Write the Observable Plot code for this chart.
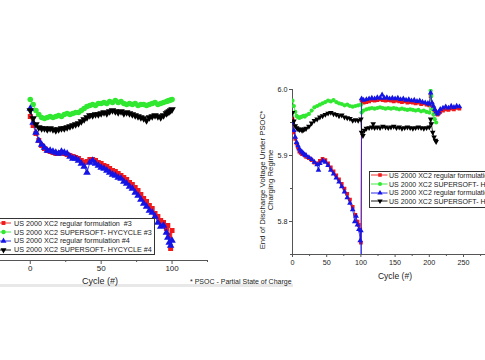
<!DOCTYPE html>
<html><head><meta charset="utf-8">
<script src="https://cdn.jsdelivr.net/npm/d3@7"></script>
<script src="https://cdn.jsdelivr.net/npm/@observablehq/plot@0.6"></script>
<style>
html,body{margin:0;padding:0;background:#fff;}
#wrap{position:relative;width:485px;height:360px;overflow:hidden;background:#fff;font-family:"Liberation Sans",Arial,Helvetica,sans-serif;color:#222;}
.abs{position:absolute;white-space:pre;line-height:1;}
.legend{position:absolute;border:1px solid #333;background:#fff;box-sizing:border-box;}
.row{position:absolute;display:flex;align-items:center;white-space:pre;line-height:1;}
</style></head><body><div id="wrap"></div>
<script>
const FONT = '"Liberation Sans", Arial, Helvetica, sans-serif';

// ---------- series definitions ----------
const seriesNames = [
  "US 2000 XC2 regular formulation  #3",
  "US 2000 XC2 SUPERSOFT- HYCYCLE #3",
  "US 2000 XC2 regular formulation #4",
  "US 2000 XC2 SUPERSOFT- HYCYCLE #4"
];
const seriesColors = ["#f01818", "#30e830", "#1414e6", "#000000"];
const seriesSymbols = ["square", "circle", "triangle", "triangleDown"];

// ---------- left panel (y axis cropped away) ----------
const leftCycles = [0,2,4,6,8,10,12,14,16,18,20,22,24,26,28,30,32,34,36,38,40,42,44,46,48,50,52,54,56,58,60,62,64,66,68,70,72,74,76,78,80,82,84,86,88,90,92,94,96,97,98,99,100];
const leftRegular3 = [5.888,5.870,5.854,5.840,5.830,5.824,5.820,5.818,5.816,5.814,5.814,5.816,5.814,5.812,5.810,5.808,5.806,5.804,5.800,5.796,5.798,5.802,5.802,5.800,5.796,5.794,5.790,5.788,5.784,5.780,5.778,5.774,5.770,5.766,5.762,5.756,5.752,5.746,5.740,5.732,5.724,5.718,5.710,5.704,5.694,5.688,5.680,5.676,5.664,5.670,5.650,5.624,5.660];
const leftSupersoft3 = [5.922,5.912,5.900,5.892,5.886,5.884,5.886,5.888,5.886,5.888,5.890,5.888,5.892,5.894,5.892,5.894,5.896,5.896,5.900,5.904,5.908,5.910,5.912,5.910,5.914,5.914,5.916,5.914,5.918,5.916,5.920,5.916,5.918,5.914,5.912,5.914,5.912,5.914,5.910,5.912,5.912,5.910,5.912,5.914,5.916,5.912,5.914,5.916,5.918,5.919,5.920,5.921,5.922];
const leftRegular4 = [5.904,5.876,5.856,5.840,5.832,5.826,5.820,5.820,5.818,5.816,5.814,5.818,5.816,5.814,5.808,5.804,5.804,5.800,5.794,5.788,5.776,5.796,5.800,5.794,5.790,5.786,5.784,5.780,5.776,5.772,5.770,5.766,5.764,5.758,5.754,5.748,5.744,5.736,5.730,5.722,5.714,5.708,5.700,5.696,5.688,5.676,5.668,5.670,5.656,5.646,5.636,5.630,5.640];
const leftSupersoft4 = [5.900,5.884,5.872,5.866,5.864,5.864,5.862,5.864,5.862,5.860,5.862,5.864,5.864,5.866,5.868,5.870,5.872,5.874,5.878,5.882,5.886,5.890,5.890,5.892,5.892,5.894,5.896,5.894,5.898,5.900,5.898,5.896,5.898,5.894,5.896,5.894,5.892,5.890,5.888,5.886,5.884,5.880,5.886,5.888,5.890,5.888,5.886,5.890,5.894,5.896,5.898,5.900,5.902];
const leftXTicks = [0, 50, 100];
const leftXMinorTicks = [25, 75, 125];

// ---------- right panel ----------
const rightRegular3Cycles = [0,2,4,6,8,10,12,14,16,18,20,24,28,32,36,40,44,48,52,56,60,64,68,72,76,80,84,88,92,95,97,99,100,101,104,108,112,116,120,124,128,132,136,140,144,148,152,156,160,164,168,172,176,180,184,188,192,196,200,202,204,206,208,210,212,214,216,220,224,228,232,236,240,244];
const rightRegular3 = [5.955,5.935,5.925,5.918,5.912,5.906,5.904,5.902,5.902,5.900,5.898,5.896,5.893,5.889,5.888,5.892,5.895,5.893,5.888,5.882,5.876,5.870,5.864,5.857,5.850,5.842,5.833,5.822,5.810,5.800,5.795,5.788,5.768,5.983,5.980,5.981,5.982,5.984,5.983,5.984,5.985,5.984,5.983,5.984,5.983,5.982,5.983,5.982,5.981,5.982,5.980,5.981,5.980,5.979,5.980,5.978,5.979,5.977,5.976,5.990,5.978,5.972,5.968,5.965,5.962,5.964,5.966,5.968,5.970,5.969,5.971,5.970,5.972,5.971];
const rightSupersoft3Cycles = [0,2,4,6,8,10,12,14,16,18,20,24,28,32,36,40,44,48,52,56,60,64,68,72,76,80,84,88,92,96,100,101,104,108,112,116,120,124,128,132,136,140,144,148,152,156,160,164,168,172,176,180,184,188,192,196,200,202,203,204,206,208,210];
const rightSupersoft3 = [5.983,5.975,5.966,5.960,5.958,5.957,5.958,5.959,5.960,5.959,5.961,5.963,5.968,5.973,5.975,5.977,5.979,5.981,5.983,5.982,5.984,5.981,5.979,5.978,5.976,5.977,5.975,5.974,5.975,5.976,5.977,5.965,5.968,5.970,5.971,5.972,5.971,5.972,5.973,5.972,5.971,5.972,5.971,5.972,5.971,5.970,5.971,5.970,5.969,5.970,5.969,5.968,5.969,5.967,5.968,5.966,5.965,5.998,5.990,5.970,5.962,5.955,5.950];
const rightRegular4Cycles = [0,2,4,6,8,10,12,14,16,18,20,24,28,32,36,38,40,44,48,52,56,60,64,68,72,76,80,84,88,91,93,95,97,99,100,100.5,101,104,108,112,116,120,124,128,131,134,138,142,146,150,154,158,162,166,170,174,178,182,186,190,194,198,200,202,204,206,208,210,212,214,216,220,224,228,232,236,240,244];
const rightRegular4 = [5.950,5.938,5.928,5.920,5.915,5.910,5.907,5.905,5.903,5.901,5.900,5.897,5.894,5.890,5.886,5.878,5.888,5.892,5.890,5.885,5.878,5.872,5.866,5.860,5.853,5.845,5.836,5.828,5.818,5.800,5.808,5.795,5.788,5.771,5.786,5.700,5.986,5.984,5.985,5.986,5.987,5.986,5.988,5.987,5.992,5.987,5.988,5.986,5.987,5.986,5.987,5.985,5.986,5.984,5.985,5.983,5.984,5.982,5.983,5.981,5.980,5.979,5.978,5.995,5.980,5.975,5.970,5.966,5.963,5.966,5.970,5.972,5.974,5.972,5.975,5.973,5.975,5.974];
const rightSupersoft4Cycles = [0,2,4,6,8,10,12,14,16,18,20,24,28,32,36,40,44,48,52,56,60,64,68,72,76,80,84,88,92,96,100,101,103,105,108,112,116,118,120,124,128,132,136,140,144,148,152,156,160,164,168,172,176,180,184,188,192,196,200,202,203,205,207,209,210];
const rightSupersoft4 = [5.965,5.952,5.945,5.942,5.940,5.939,5.940,5.938,5.939,5.940,5.941,5.944,5.949,5.953,5.955,5.958,5.960,5.962,5.964,5.965,5.963,5.962,5.960,5.961,5.958,5.957,5.956,5.953,5.954,5.953,5.955,5.935,5.930,5.938,5.941,5.942,5.943,5.948,5.942,5.943,5.942,5.944,5.943,5.942,5.943,5.944,5.942,5.943,5.941,5.942,5.943,5.942,5.941,5.942,5.943,5.942,5.941,5.942,5.943,5.955,5.948,5.935,5.928,5.923,5.921];
const rightXTicks = [0, 50, 100, 150, 200, 250, 300];
const rightXMinorTicks = [25, 75, 125, 175, 225, 275];
const rightYTicks = [5.8, 5.9, 6.0];
const rightYMinorTicks = [5.75, 5.85, 5.95];

// ---------- helpers ----------
const triangleDown = {
  draw(context, size) {
    d3.symbolTriangle.draw({
      moveTo: (x, y) => context.moveTo(x, -y),
      lineTo: (x, y) => context.lineTo(x, -y),
      closePath: () => context.closePath()
    }, size);
  }
};
const symbolFor = s => s === "triangleDown" ? triangleDown : s;
const d3SymbolFor = s => ({square: d3.symbolSquare, circle: d3.symbolCircle, triangle: d3.symbolTriangle, triangleDown}[s]);
const toRows = (cycles, values) => values.map((v, i) => ({cycle: cycles[i], v}));

function seriesMarks(rows, i, r, clip) {
  return [
    Plot.line(rows, {x: "cycle", y: "v", stroke: seriesColors[i], strokeWidth: 0.8, clip}),
    Plot.dot(rows, {x: "cycle", y: "v", symbol: symbolFor(seriesSymbols[i]), fill: seriesColors[i], r, clip})
  ];
}

const wrap = document.getElementById("wrap");
function place(el, left, top) {
  el.style.position = "absolute";
  el.style.left = left + "px";
  el.style.top = top + "px";
  wrap.appendChild(el);
}
function addText(txt, cx, cy, size, align = "center") {
  const d = document.createElement("div");
  d.className = "abs";
  d.textContent = txt;
  d.style.fontSize = size + "px";
  d.style.color = "#222";
  wrap.appendChild(d);
  const w = d.getBoundingClientRect().width;
  const left = align === "center" ? cx - w / 2 : cx;
  d.style.left = left + "px";
  d.style.top = (cy - size / 2) + "px";
  return d;
}
function addLegend(box) {
  const div = document.createElement("div");
  div.className = "legend";
  Object.assign(div.style, {left: box.left + "px", top: box.top + "px", width: box.width + "px", height: box.height + "px"});
  wrap.appendChild(div);
  seriesNames.forEach((name, i) => {
    const cy = box.firstRow + i * box.step;
    const row = document.createElement("div");
    row.className = "row";
    row.style.left = box.lineX0 + "px";
    row.style.top = (cy - 5) + "px";
    row.style.height = "10px";
    const svg = d3.create("svg").attr("width", box.textX - box.lineX0).attr("height", 10).style("display", "block").style("overflow", "visible");
    svg.append("line").attr("x1", 0).attr("x2", box.lineX1 - box.lineX0).attr("y1", 5).attr("y2", 5)
      .attr("stroke", seriesColors[i]).attr("stroke-width", 0.9);
    svg.append("path").attr("transform", `translate(${box.markX - box.lineX0},5)`)
      .attr("d", d3.symbol(d3SymbolFor(seriesSymbols[i]), Math.PI * box.markR * box.markR)())
      .attr("fill", seriesColors[i]);
    row.appendChild(svg.node());
    const span = document.createElement("span");
    span.textContent = name;
    span.style.fontSize = box.fontSize + "px";
    span.style.color = "#222";
    row.appendChild(span);
    wrap.appendChild(row);
  });
}

// ---------- left plot ----------
const leftSeries = [leftRegular3, leftSupersoft3, leftRegular4, leftSupersoft4];
const leftPlot = Plot.plot({
  width: 240, height: 300,
  marginLeft: 0, marginRight: 33, marginTop: 60, marginBottom: 40,
  x: {domain: [-21, 125]},
  y: {domain: [5.60, 6.00], axis: null},
  style: {fontFamily: FONT, fontSize: "8px", color: "#222", background: "transparent", overflow: "visible"},
  marks: [
    Plot.ruleY([5.60], {stroke: "#555", strokeWidth: 1}),
    Plot.axisX({ticks: leftXTicks, tickSize: 4, tickPadding: 1, fontSize: 8, label: null, stroke: "#555"}),
    Plot.axisX({ticks: leftXMinorTicks, tickSize: 2, tickFormat: () => "", label: null, stroke: "#555"}),
    ...leftSeries.flatMap((vals, i) => seriesMarks(toRows(leftCycles, vals), i, 2.8, false))
  ]
});
place(leftPlot, 0, 0);

// ---------- right plot ----------
const rightSeries = [
  toRows(rightRegular3Cycles, rightRegular3),
  toRows(rightSupersoft3Cycles, rightSupersoft3),
  toRows(rightRegular4Cycles, rightRegular4),
  toRows(rightSupersoft4Cycles, rightSupersoft4)
];
const rightPlot = Plot.plot({
  width: 275, height: 300,
  marginLeft: 52, marginRight: 17.8, marginTop: 89, marginBottom: 46,
  x: {domain: [0, 300]},
  y: {domain: [5.75, 6.0]},
  style: {fontFamily: FONT, fontSize: "7.2px", color: "#222", background: "transparent", overflow: "visible"},
  marks: [
    Plot.ruleX([0], {stroke: "#555"}),
    Plot.ruleY([5.75], {stroke: "#555"}),
    Plot.axisX({ticks: rightXTicks, tickSize: 3, tickPadding: 2.5, fontSize: 7.2, label: null, stroke: "#555"}),
    Plot.axisX({ticks: rightXMinorTicks, tickSize: 2, tickFormat: () => "", label: null, stroke: "#555"}),
    Plot.axisY({ticks: rightYTicks, tickFormat: d3.format(".1f"), tickSize: 3, tickPadding: 2, fontSize: 7.2, label: null, stroke: "#555"}),
    Plot.axisY({ticks: rightYMinorTicks, tickSize: 2, tickFormat: () => "", label: null, stroke: "#555"}),
    ...rightSeries.flatMap((rows, i) => seriesMarks(rows, i, 2.1, true))
  ]
});
place(rightPlot, 240, 0);

// ---------- texts ----------
const band = document.createElement("div");
Object.assign(band.style, {width: "293px", height: "3px", background: "#e8e8e8"});
place(band, 0, 284);

addText("Cycle (#)", 100, 281, 9);
addText("Cycle (#)", 395, 276, 8.5);
addText("* PSOC - Partial State of Charge", 190, 281, 7, "left");

const ytitle = document.createElement("div");
ytitle.innerHTML = "End of Discharge Voltage Under PSOC*<br>Charging Regime";
Object.assign(ytitle.style, {width: "200px", height: "16px", fontSize: "7.8px", lineHeight: "8px", textAlign: "center",
  whiteSpace: "nowrap", transform: "rotate(-90deg)", transformOrigin: "50% 50%", color: "#222"});
place(ytitle, 267 - 100, 179.5 - 8);

// ---------- legends ----------
addLegend({left: -1, top: 217.5, width: 155.5, height: 37.5, firstRow: 223.3, step: 8.9,
  lineX0: 0, lineX1: 11, markX: 3.5, textX: 14, markR: 2.2, fontSize: 7.2});
addLegend({left: 369, top: 170.5, width: 140, height: 37, firstRow: 175.3, step: 8.7,
  lineX0: 370.5, lineX1: 387, markX: 379.5, textX: 389, markR: 2, fontSize: 7});
</script></body></html>
